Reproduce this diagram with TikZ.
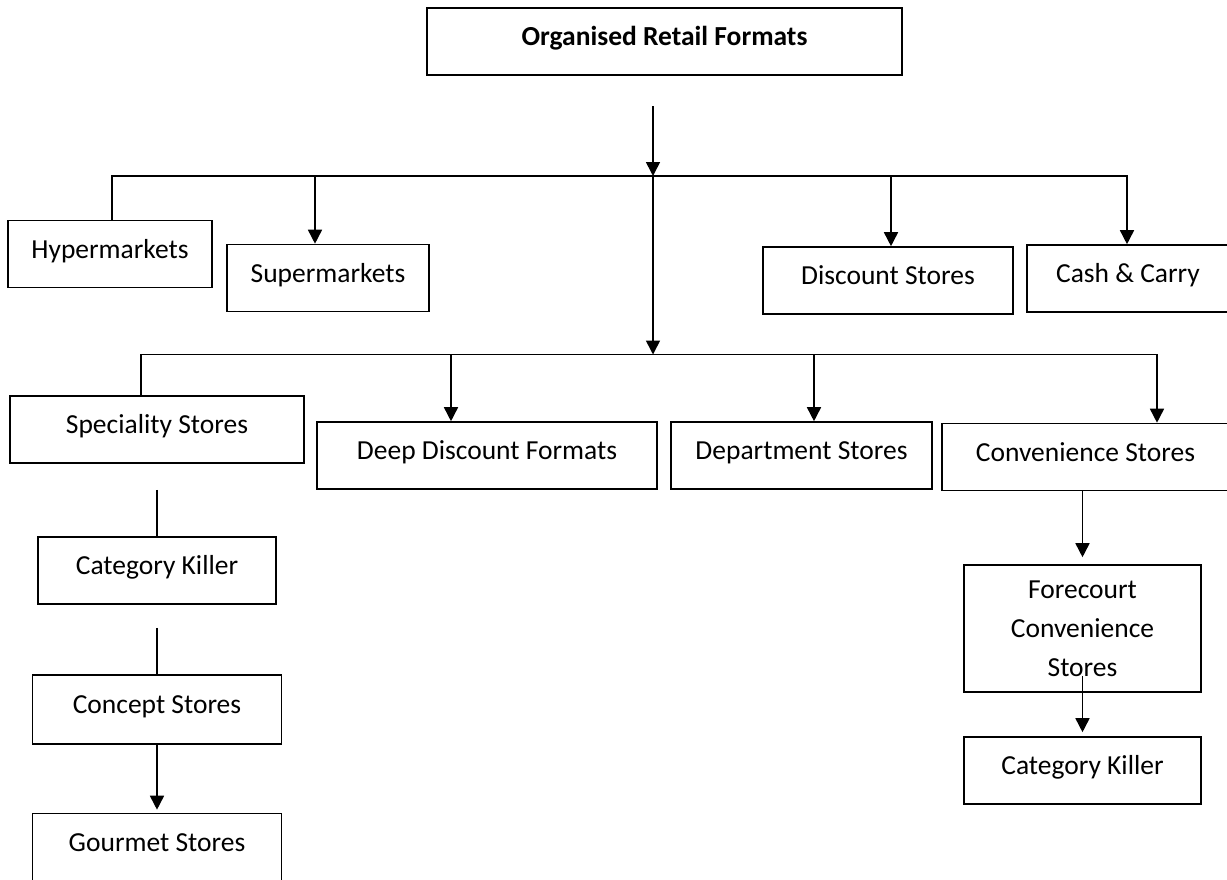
\documentclass[tikz,border=0pt]{standalone}
\usepackage{fontspec}
\setmainfont{Carlito}
\usepackage{tikz}
\usetikzlibrary{arrows.meta}

\begin{document}
\begin{tikzpicture}[x=0.5pt, y=-0.5pt, line width=0.8pt,
					box/.style={draw, rectangle, inner sep=0pt, minimum width=#1*0.5pt, minimum height=33.5pt,
						text height=10pt, text depth=5.65pt, font=\fontsize{13.75}{19.5}\selectfont},
					link/.style={-{Triangle[length=7pt,width=7pt]}}]
				\useasboundingbox (0,0) rectangle (1227,879);
				\node[box=475, font=\fontsize{13.75}{19.5}\selectfont\bfseries] (retail) at (664.5,41.5) {Organised Retail Formats};
				\node[box=204] (hyper) at (110,254) {Hypermarkets};
				\node[box=202] (super) at (328,278) {Supermarkets};
				\node[box=250] (disc) at (888,280.5) {Discount Stores};
				\node[box=202] (cash) at (1128,278.5) {Cash \& Carry};
				\node[box=294] (spec) at (157,429.5) {Speciality Stores};
				\node[box=340] (deep) at (487,455.5) {Deep Discount Formats};
				\node[box=261] (dept) at (801.5,455.5) {Department Stores};
				\node[box=287] (conv) at (1085.5,457) {Convenience Stores};
				\node[box=238] (catkill) at (157,570.5) {Category Killer};
				\node[box=249, minimum height=34.5pt] (concept) at (157,709.5) {Concept Stores};
				\node[box=249] (gourmet) at (157,847) {Gourmet Stores};
				\node[box=237, minimum height=63.5pt, text height={}, text depth={}, align=center] (forecourt) at (1082.5,628.5) {Forecourt\\Convenience\\Stores};
				\node[box=237] (catkill2) at (1082.5,770.5) {Category Killer};
				\coordinate (start) at (653,106);
				\coordinate (j1) at (653,176);
				\coordinate (j2) at (653,354.5);
				\draw[link] (start) -- (j1);
				\draw[link] (j1) -- (j2);
				\draw[link] ([xshift=1pt]hyper.north) |- (j1) -| ([xshift=-0.5pt]cash.north);
				\draw[link] ([xshift=-6.5pt]super.north |- j1) -- ([xshift=-6.5pt]super.north);
				\draw[link] ([xshift=1.5pt]disc.north |- j1) -- ([xshift=1.5pt]disc.north);
				\draw[link] ([xshift=-8pt]spec.north) |- (j2) -| ([xshift=35.75pt]conv.north);
				\draw[link] ([xshift=-18pt]deep.north |- j2) -- ([xshift=-18pt]deep.north);
				\draw[link] ([xshift=6.25pt]dept.north |- j2) -- ([xshift=6.25pt]dept.north);
				\draw ([yshift=-13pt]spec.south) -- (catkill.north);
				\draw ([yshift=-11.5pt]catkill.south) -- (concept.north);
				\draw[link] (concept.south) -- ([yshift=1.5pt]gourmet.north);
				\draw[link] (conv.south -| forecourt.north) -- ([yshift=3.5pt]forecourt.north);
				\draw[link] ([yshift=8.5pt]forecourt.south) -- ([yshift=2pt]catkill2.north);
			\end{tikzpicture}
\end{document}
